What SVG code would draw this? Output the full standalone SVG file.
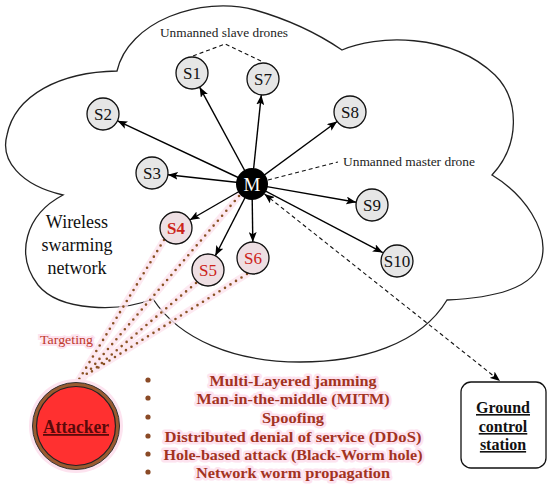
<svg xmlns="http://www.w3.org/2000/svg" width="550" height="487" viewBox="0 0 550 487">
<defs>
<style>
.cloud{fill:#fff;stroke:#222;stroke-width:1.3}
.node circle{fill:#e6e6e6;stroke:#111;stroke-width:1.3}
.node text{font-family:"Liberation Serif","Times New Roman",serif;font-size:17px;text-anchor:middle;fill:#111}
.tgt circle{fill:#eedfe3}
.tgt text{fill:#cc2419}
.arr{stroke:#000;stroke-width:1.4;fill:none;marker-end:url(#ah)}
.dash{stroke:#111;stroke-width:1.1;fill:none;stroke-dasharray:4 3}
.glow{stroke:#fde3ee;stroke-width:7;fill:none;stroke-linecap:round}
.dots{stroke:#8a5224;stroke-width:2.6;fill:none;stroke-dasharray:0 6.5;stroke-linecap:round}
.lbl{font-family:"Liberation Serif","Times New Roman",serif;font-size:13px;fill:#222}
.list text{font-family:"Liberation Serif","Times New Roman",serif;font-size:15.5px;font-weight:bold;fill:#a3331f;text-anchor:middle;stroke:#fde3ef;stroke-width:5;paint-order:stroke;stroke-linejoin:round}
.bul{fill:#8a4a26}
.gcs text{font-family:"Liberation Serif","Times New Roman",serif;font-size:16px;font-weight:bold;text-anchor:middle;text-decoration:underline;fill:#111}
</style>
<marker id="ah" viewBox="0 0 10 8" refX="10" refY="4" markerWidth="10" markerHeight="8" markerUnits="userSpaceOnUse" orient="auto-start-reverse">
<path d="M0,0 L10,4 L0,8 L2.2,4 z" fill="#000"/>
</marker>
</defs>

<g id="cloud">
<path class="cloud" d="M117,71 C128,22 200,-5 255,10 C290,20 320,35 342,50 C375,35 450,32 495,75 C520,100 520,145 492,175 C525,195 548,230 542,258 C536,290 490,298 447,300 C420,345 360,362 300,362 C235,362 180,340 153,299 C120,312 60,312 38,285 C15,255 25,215 63,195 C20,185 0,160 7,135 C15,95 60,72 117,71 Z"/>
<text x="77" y="228" font-family="Liberation Serif, Times New Roman, serif" font-size="18" text-anchor="middle" fill="#111">Wireless</text>
<text x="77" y="251" font-family="Liberation Serif, Times New Roman, serif" font-size="18" text-anchor="middle" fill="#111">swarming</text>
<text x="77" y="274" font-family="Liberation Serif, Times New Roman, serif" font-size="18" text-anchor="middle" fill="#111">network</text>
</g>

<g id="connectors">
<g id="attack-lines">
<path class="glow" d="M164,240 L78,381 M239,196 L84,377 M196,283 L90,373 M247,274 L96,369" opacity="0.8"/>
<path class="dots" d="M164,240 L78,381 M239,196 L84,377 M196,283 L90,373 M247,274 L96,369"/>
</g>
<line class="arr" x1="252" y1="184" x2="199.6" y2="87.1"/>
<line class="arr" x1="252" y1="184" x2="261.3" y2="94.9"/>
<line class="arr" x1="252" y1="184" x2="117.5" y2="120.8"/>
<line class="arr" x1="252" y1="184" x2="337.1" y2="121.5"/>
<line class="arr" x1="252" y1="184" x2="167.9" y2="174.7"/>
<line class="arr" x1="252" y1="184" x2="356.2" y2="202.2"/>
<line class="arr" x1="252" y1="184" x2="189.8" y2="220"/>
<line class="arr" x1="252" y1="184" x2="215.3" y2="255.8"/>
<line class="arr" x1="252" y1="184" x2="252.8" y2="242"/>
<line class="arr" x1="252" y1="184" x2="382.8" y2="252.6"/>
<line class="dash" x1="264.5" y1="194" x2="500" y2="381" marker-start="url(#ah)" marker-end="url(#ah)"/>
<polyline class="dash" points="193,56 225,44 263,62"/>
<line class="dash" x1="268" y1="180" x2="338" y2="162"/>
</g>

<g id="labels">
<text class="lbl" x="224" y="37" text-anchor="middle" textLength="128" lengthAdjust="spacingAndGlyphs">Unmanned slave drones</text>
<text class="lbl" x="343" y="166" textLength="132" lengthAdjust="spacingAndGlyphs">Unmanned master drone</text>
<text x="40" y="344" font-family="Liberation Serif, Times New Roman, serif" font-size="13" fill="#c0392b" stroke="#fde3ef" stroke-width="4" paint-order="stroke" textLength="53" lengthAdjust="spacingAndGlyphs">Targeting</text>
</g>

<g id="S1" class="node"><circle cx="192" cy="73" r="16"/><text x="192" y="79">S1</text></g>
<g id="S7" class="node"><circle cx="263" cy="79" r="16"/><text x="263" y="85">S7</text></g>
<g id="S2" class="node"><circle cx="103" cy="114" r="16"/><text x="103" y="120">S2</text></g>
<g id="S8" class="node"><circle cx="350" cy="112" r="16"/><text x="350" y="118">S8</text></g>
<g id="S3" class="node"><circle cx="152" cy="173" r="16"/><text x="152" y="179">S3</text></g>
<g id="S9" class="node"><circle cx="372" cy="205" r="16"/><text x="372" y="211">S9</text></g>
<g id="S10" class="node"><circle cx="397" cy="261" r="16"/><text x="397" y="267">S10</text></g>
<g id="S4" class="node tgt"><circle cx="176" cy="228" r="16"/><text x="176" y="234" font-weight="bold">S4</text></g>
<g id="S5" class="node tgt"><circle cx="208" cy="270" r="16"/><text x="208" y="276">S5</text></g>
<g id="S6" class="node tgt"><circle cx="253" cy="258" r="16"/><text x="253" y="264" fill="#b22a1a">S6</text></g>
<g id="M"><circle cx="252" cy="184" r="16" fill="#000"/><text x="252" y="191" font-family="Liberation Serif, Times New Roman, serif" font-size="19" text-anchor="middle" fill="#fff">M</text></g>

<g id="attacker">
<circle cx="76" cy="426" r="47" fill="#fde3ef"/>
<circle cx="76" cy="426" r="43.5" fill="#9a5a30" stroke="#333" stroke-width="1"/>
<circle cx="76" cy="426" r="39.5" fill="#ff3030" stroke="#222" stroke-width="1.2"/>
<text x="76" y="433" font-family="Liberation Serif, Times New Roman, serif" font-size="18" font-weight="bold" text-anchor="middle" fill="#5a0a0a" text-decoration="underline" textLength="66" lengthAdjust="spacingAndGlyphs">Attacker</text>
</g>

<g id="attack-list" class="list">
<circle class="bul" cx="148" cy="380" r="2.6"/>
<circle class="bul" cx="148" cy="398" r="2.6"/>
<circle class="bul" cx="148" cy="417" r="2.6"/>
<circle class="bul" cx="148" cy="436" r="2.6"/>
<circle class="bul" cx="148" cy="454" r="2.6"/>
<circle class="bul" cx="148" cy="472" r="2.6"/>
<text x="293" y="386" textLength="167" lengthAdjust="spacingAndGlyphs">Multi-Layered jamming</text>
<text x="293" y="404" textLength="193" lengthAdjust="spacingAndGlyphs">Man-in-the-middle (MITM)</text>
<text x="293" y="423" textLength="62" lengthAdjust="spacingAndGlyphs">Spoofing</text>
<text x="293" y="442" textLength="257" lengthAdjust="spacingAndGlyphs">Distributed denial of service (DDoS)</text>
<text x="293" y="460" textLength="259" lengthAdjust="spacingAndGlyphs">Hole-based attack (Black-Worm hole)</text>
<text x="293" y="478" textLength="194" lengthAdjust="spacingAndGlyphs">Network worm propagation</text>
</g>

<g id="ground-control-station" class="gcs">
<rect x="461" y="382" width="85" height="86" rx="10" fill="#fff" stroke="#111" stroke-width="1.3"/>
<text x="503" y="413">Ground</text>
<text x="503" y="432">control</text>
<text x="503" y="450">station</text>
</g>
</svg>
